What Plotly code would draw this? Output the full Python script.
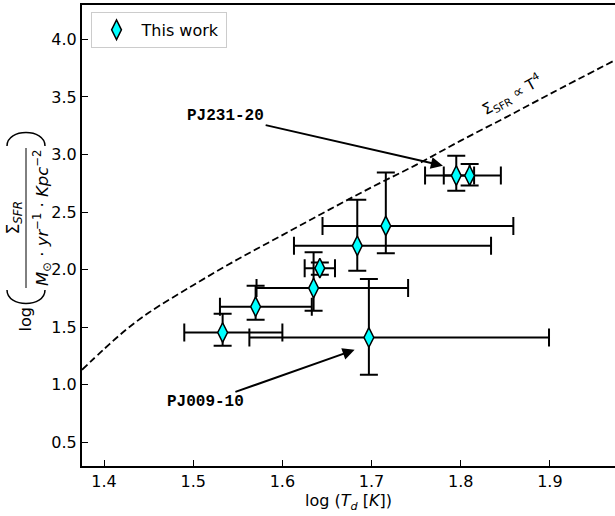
import plotly.graph_objects as go

# --- data ---
td_log = [1.533, 1.570, 1.635, 1.642, 1.684, 1.716, 1.697, 1.795, 1.810]
sfr_log = [1.454, 1.678, 1.840, 2.013, 2.207, 2.380, 1.411, 2.817, 2.817]
td_lo = [1.490, 1.530, 1.571, 1.625, 1.613, 1.645, 1.563, 1.760, 1.781]
td_hi = [1.600, 1.633, 1.741, 1.659, 1.834, 1.859, 1.899, 1.815, 1.845]
sfr_lo = [1.339, 1.565, 1.643, 1.955, 1.990, 2.143, 1.087, 2.686, 2.730]
sfr_hi = [1.617, 1.860, 2.152, 2.062, 2.606, 2.843, 1.918, 2.990, 2.918]

curve_x = [1.3753, 1.40, 1.425, 1.45, 1.50, 1.55, 1.60, 1.65, 1.70, 1.75, 1.80, 1.85, 1.90, 1.975]
curve_y = [1.13, 1.31, 1.48, 1.625, 1.865, 2.09, 2.30, 2.51, 2.715, 2.91, 3.12, 3.32, 3.525, 3.827]

x_ticks = [1.4, 1.5, 1.6, 1.7, 1.8, 1.9]
y_ticks = [0.5, 1.0, 1.5, 2.0, 2.5, 3.0, 3.5, 4.0]

ex_plus = [h - v for h, v in zip(td_hi, td_log)]
ex_minus = [v - l for l, v in zip(td_lo, td_log)]
ey_plus = [h - v for h, v in zip(sfr_hi, sfr_log)]
ey_minus = [v - l for l, v in zip(sfr_lo, sfr_log)]

FONT = "DejaVu Sans"
W, H = 615, 516
ML, MR, MT, MB = 82, 0, 5, 50
PW, PH = W - ML - MR, H - MT - MB


def px(xp):
    return (xp - ML) / PW


def py(yp):
    return (H - MB - yp) / PH


fig = go.Figure()

fig.add_trace(go.Scatter(
    x=curve_x, y=curve_y, mode="lines", line_shape="spline",
    line=dict(color="black", width=1.8, dash="7px,3.5px"),
    showlegend=False, hoverinfo="skip"))

fig.add_trace(go.Scatter(
    x=td_log, y=sfr_log, mode="markers", name="This work",
    marker=dict(symbol="diamond-tall", size=14, color="#00FFFF",
                line=dict(color="black", width=1.5)),
    error_x=dict(type="data", symmetric=False, array=ex_plus, arrayminus=ex_minus,
                 color="black", thickness=2, width=9),
    error_y=dict(type="data", symmetric=False, array=ey_plus, arrayminus=ey_minus,
                 color="black", thickness=2, width=9),
))

annotations = [
    dict(x=1.780, y=2.903, ax=1.5364, ay=3.3345, axref="x", ayref="y", xref="x", yref="y",
         text="<b>PJ231-20</b>", showarrow=True, arrowhead=2, arrowsize=1.2, arrowwidth=2,
         arrowcolor="black", font=dict(family="Liberation Mono", size=16, color="black")),
    dict(x=1.681, y=1.304, ax=1.514, ay=0.847, axref="x", ayref="y", xref="x", yref="y",
         text="<b>PJ009-10</b>", showarrow=True, arrowhead=2, arrowsize=1.2, arrowwidth=2,
         arrowcolor="black", font=dict(family="Liberation Mono", size=16, color="black")),
    dict(x=1.857, y=3.52, xref="x", yref="y", text="Σ<sub>SFR</sub> ∝ T<sup>4</sup>",
         showarrow=False, textangle=-29, font=dict(family=FONT, size=15, color="black")),
    # y-axis label pieces
    dict(x=px(13), y=py(334), xref="paper", yref="paper", text="log", showarrow=False,
         textangle=-90, font=dict(family=FONT, size=16, color="black")),
    dict(x=px(0), y=py(218), xref="paper", yref="paper", text="Σ<sub><i>SFR</i></sub>",
         showarrow=False, textangle=-90, font=dict(family=FONT, size=17, color="black")),
    dict(x=px(28), y=py(218), xref="paper", yref="paper",
         text="<i>M</i><sub>⊙</sub> · <i>yr</i><sup>−1</sup> · <i>Kpc</i><sup>−2</sup>",
         showarrow=False, textangle=-90, font=dict(family=FONT, size=16.5, color="black")),
]


def paren(y_end, y_ctrl):
    return (f"M {px(7)},{py(y_end)} C {px(7)},{py(y_ctrl)} "
            f"{px(45)},{py(y_ctrl)} {px(45)},{py(y_end)}")


shapes = [
    dict(type="line", xref="paper", yref="paper", x0=px(26), x1=px(26),
         y0=py(148), y1=py(288), line=dict(color="black", width=1)),
    dict(type="path", xref="paper", yref="paper", path=paren(146, 128),
         line=dict(color="black", width=1.5)),
    dict(type="path", xref="paper", yref="paper", path=paren(290, 308),
         line=dict(color="black", width=1.5)),
]

fig.update_layout(
    width=W, height=H,
    margin=dict(l=ML, r=MR, t=MT, b=MB),
    paper_bgcolor="white", plot_bgcolor="white",
    font=dict(family=FONT, size=16, color="black"),
    annotations=annotations,
    shapes=shapes,
    legend=dict(x=0.016, y=0.985, xanchor="left", yanchor="top", itemwidth=40,
                bgcolor="white", bordercolor="#cccccc", borderwidth=1,
                font=dict(family=FONT, size=16, color="black")),
    xaxis=dict(range=[1.3753, 1.973], tickvals=x_ticks, ticktext=[f"{v:.1f}" for v in x_ticks],
               ticks="inside", ticklen=6, tickwidth=1.2, tickcolor="black",
               showline=True, linecolor="black", linewidth=2, mirror=True,
               showgrid=False, zeroline=False,
               title=dict(text="log (<i>T<sub>d</sub></i> [<i>K</i>])", standoff=4,
                          font=dict(family=FONT, size=16))),
    yaxis=dict(range=[0.295, 4.298], tickvals=y_ticks, ticktext=[f"{v:.1f}" for v in y_ticks],
               ticks="inside", ticklen=6, tickwidth=1.2, tickcolor="black",
               showline=True, linecolor="black", linewidth=2,
               showgrid=False, zeroline=False),
)

fig.write_html("out.html")
